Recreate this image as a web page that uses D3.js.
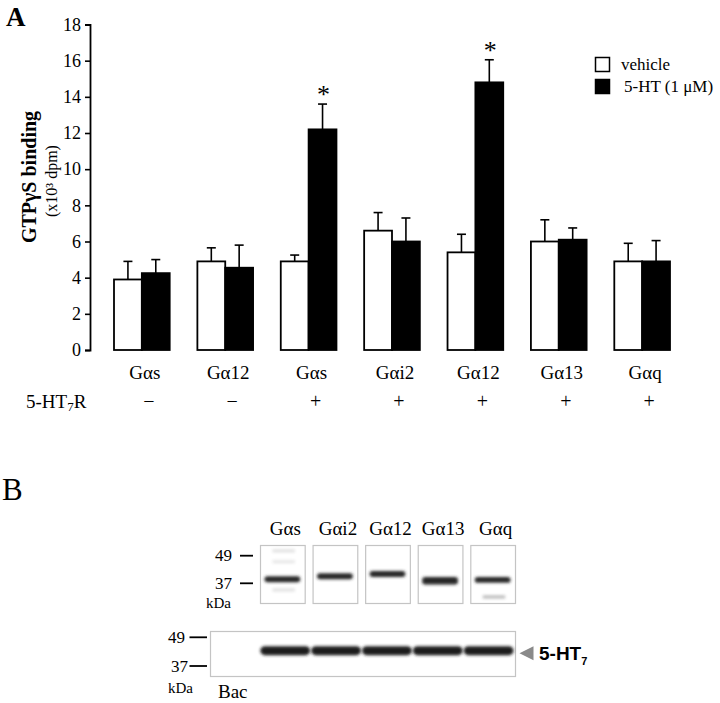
<!DOCTYPE html>
<html>
<head>
<meta charset="utf-8">
<script src="https://cdn.jsdelivr.net/npm/d3@7"></script>
<style>
  html, body { margin: 0; padding: 0; background: #fff; }
  svg { display: block; }
</style>
</head>
<body>
<svg id="chart" width="720" height="703"></svg>
<script>
// ---------- Panel A data ----------
const groups = ["Gαs", "Gα12", "Gαs", "Gαi2", "Gα12", "Gα13", "Gαq"];
const receptor = ["−", "−", "+", "+", "+", "+", "+"];
const vehicle = [3.9, 4.9, 4.9, 6.6, 5.4, 6.0, 4.9];
const vehicleErr = [1.0, 0.75, 0.35, 1.0, 1.0, 1.2, 1.0];
const serotonin = [4.25, 4.55, 12.2, 6.0, 14.8, 6.1, 4.9];
const serotoninErr = [0.75, 1.25, 1.4, 1.3, 1.25, 0.65, 1.15];
const significant = [false, false, true, false, true, false, false];
const yTicks = [0, 2, 4, 6, 8, 10, 12, 14, 16, 18];
const seriesNames = ["vehicle", "5-HT (1 μM)"];

// ---------- Panel B data ----------
const blotLanes = ["Gαs", "Gαi2", "Gα12", "Gα13", "Gαq"];
const blotBandKDa = [38.6, 39.8, 40.7, 38.0, 38.3];
const blotBandWeight = [1.0, 1.0, 1.0, 1.25, 0.95];
const faintBands = [
  { lane: "Gαs", kDa: 51.5, opacity: 0.15 },
  { lane: "Gαs", kDa: 46.1, opacity: 0.12 },
  { lane: "Gαs", kDa: 34.6, opacity: 0.15 },
  { lane: "Gαq", kDa: 32.2, opacity: 0.35 }
];
const markersKDa = [49, 37];
const bacLanes = ["Bac", "Gαs", "Gαi2", "Gα12", "Gα13", "Gαq"];
const bacBandKDa = [null, 43, 43, 43, 43, 43];

const SERIF = "'Liberation Serif', 'Times New Roman', serif";
const SANS = "'Liberation Sans', Arial, sans-serif";

const svg = d3.select("#chart").style("font-family", SERIF);
svg.append("rect").attr("width", 720).attr("height", 703).attr("fill", "#fff");

function txt(sel) { return sel.style("font-family", SERIF).attr("fill", "#000"); }

// ---------- Panel A ----------
const y = d3.scaleLinear().domain([0, 18]).range([350, 24.5]);
const x = d3.scaleBand().domain(d3.range(groups.length)).range([114, 670]).paddingInner(0.332);
const xs = d3.scaleBand().domain([0, 1]).range([0, x.bandwidth()]);

txt(svg.append("text")).text("A").attr("x", 6).attr("y", 26)
  .attr("font-size", 27).attr("font-weight", "bold");

const yAxis = d3.axisLeft(y).tickValues(yTicks).tickSize(5).tickPadding(4);
const gy = svg.append("g").attr("transform", "translate(90,0)").call(yAxis);
gy.attr("font-family", null);
gy.select(".domain").attr("stroke", "#000").attr("stroke-width", 1.8);
gy.selectAll(".tick line").attr("stroke", "#000").attr("stroke-width", 1.6);
gy.selectAll(".tick text").style("font-family", SERIF).attr("font-size", 18).attr("fill", "#000");

txt(svg.append("text")).attr("transform", "translate(29,177) rotate(-90)")
  .attr("text-anchor", "middle").attr("dominant-baseline", "central")
  .attr("font-size", 20).attr("font-weight", "bold").text("GTPγS binding");
txt(svg.append("text")).attr("transform", "translate(51,181) rotate(-90)")
  .attr("text-anchor", "middle").attr("dominant-baseline", "central")
  .attr("font-size", 16).text("(x10³ dpm)");

const series = [
  { vals: vehicle, errs: vehicleErr, fill: "#fff" },
  { vals: serotonin, errs: serotoninErr, fill: "#000" }
];

series.forEach((s, si) => {
  const g = svg.append("g");
  const cx = i => x(i) + xs(si) + xs.bandwidth() / 2;
  g.selectAll("line.stem").data(s.vals).join("line")
    .attr("x1", (d, i) => cx(i)).attr("x2", (d, i) => cx(i))
    .attr("y1", d => y(d)).attr("y2", (d, i) => y(d + s.errs[i]))
    .attr("stroke", "#000").attr("stroke-width", 1.6);
  g.selectAll("line.cap").data(s.vals).join("line")
    .attr("x1", (d, i) => cx(i) - 4.5).attr("x2", (d, i) => cx(i) + 4.5)
    .attr("y1", (d, i) => y(d + s.errs[i])).attr("y2", (d, i) => y(d + s.errs[i]))
    .attr("stroke", "#000").attr("stroke-width", 1.6);
  g.selectAll("rect").data(s.vals).join("rect")
    .attr("x", (d, i) => x(i) + xs(si))
    .attr("y", d => y(d))
    .attr("width", xs.bandwidth())
    .attr("height", d => y(0) - y(d))
    .attr("fill", s.fill).attr("stroke", "#000").attr("stroke-width", 1.8);
});

// significance stars
const starData = serotonin.map((v, i) => ({ i, top: v + serotoninErr[i], sig: significant[i] })).filter(d => d.sig);
txt(svg.selectAll("text.star").data(starData).join("text"))
  .attr("x", d => x(d.i) + xs(1) + xs.bandwidth() / 2 + 1)
  .attr("y", d => y(d.top) - 1)
  .attr("text-anchor", "middle").attr("font-size", 26).text("*");

// group labels
txt(svg.selectAll("text.glab").data(groups).join("text"))
  .attr("x", (d, i) => x(i) + x.bandwidth() / 2 + 3)
  .attr("y", 379).attr("text-anchor", "middle").attr("font-size", 19).text(d => d);

// receptor row
const rl = txt(svg.append("text")).attr("x", 26).attr("y", 408).attr("font-size", 19);
rl.append("tspan").text("5-HT");
rl.append("tspan").attr("font-size", 13).attr("dy", 3).text("7");
rl.append("tspan").attr("dy", -3).text("R");
txt(svg.selectAll("text.rec").data(receptor).join("text"))
  .attr("x", (d, i) => x(i) + x.bandwidth() / 2 + 7)
  .attr("y", 408).attr("text-anchor", "middle").attr("font-size", 20).text(d => d);

// legend
const leg = svg.append("g");
seriesNames.forEach((n, i) => {
  leg.append("rect").attr("x", 595.5).attr("y", 57.5 + i * 22).attr("width", 14).attr("height", 14)
    .attr("fill", i === 0 ? "#fff" : "#000").attr("stroke", "#000").attr("stroke-width", 1.5);
  txt(leg.append("text")).attr("x", i === 0 ? 621 : 624).attr("y", 70 + i * 22)
    .attr("font-size", 17).text(n);
});

// ---------- Panel B ----------
txt(svg.append("text")).text("B").attr("x", 2).attr("y", 500).attr("font-size", 31);

const defs = svg.append("defs");
defs.append("filter").attr("id", "blur").attr("x", "-20%").attr("y", "-150%").attr("width", "140%").attr("height", "400%")
  .append("feGaussianBlur").attr("stdDeviation", "1.6 1.4");

const lx = d3.scaleBand().domain(blotLanes).range([260, 515]).paddingInner(0.15);
const ky = d3.scaleLog().domain([37, 49]).range([583.3, 555.7]);
const boxTop = 545.5, boxBot = 603.5;

svg.selectAll("rect.lanebox").data(blotLanes).join("rect")
  .attr("x", d => lx(d) + 0.5).attr("y", boxTop).attr("width", lx.bandwidth()).attr("height", boxBot - boxTop)
  .attr("fill", "#fff").attr("stroke", "#c4c4c4").attr("stroke-width", 1.2);

svg.selectAll("rect.faint").data(faintBands).join("rect")
  .attr("x", d => lx(d.lane) + lx.bandwidth() * 0.28).attr("width", lx.bandwidth() * 0.5)
  .attr("y", d => ky(d.kDa) - 1.5).attr("height", 3)
  .attr("fill", "#333").attr("opacity", d => d.opacity).attr("filter", "url(#blur)");

svg.selectAll("rect.band").data(blotLanes).join("rect")
  .attr("x", d => lx(d) + lx.bandwidth() * 0.1).attr("width", lx.bandwidth() * 0.8)
  .attr("y", (d, i) => ky(blotBandKDa[i]) - 3 * blotBandWeight[i])
  .attr("height", (d, i) => 6 * blotBandWeight[i]).attr("rx", 3)
  .attr("fill", "#262626").attr("filter", "url(#blur)");

txt(svg.selectAll("text.lanelab").data(blotLanes).join("text"))
  .attr("x", d => lx(d) + lx.bandwidth() / 2 + 3).attr("y", 535)
  .attr("text-anchor", "middle").attr("font-size", 19).text(d => d);

markersKDa.forEach(k => {
  svg.append("line").attr("x1", 240).attr("x2", 253).attr("y1", ky(k)).attr("y2", ky(k))
    .attr("stroke", "#000").attr("stroke-width", 1.8);
  txt(svg.append("text")).attr("x", 232).attr("y", ky(k)).attr("dominant-baseline", "central")
    .attr("text-anchor", "end").attr("font-size", 17).text(k);
});
txt(svg.append("text")).attr("x", 206).attr("y", 608).attr("font-size", 15).text("kDa");

const bx = d3.scaleBand().domain(bacLanes).range([210.5, 515.5]);
const by = d3.scaleLog().domain([37, 49]).range([666, 637.3]);
svg.append("rect").attr("x", 210.5).attr("y", 631.5).attr("width", 305).attr("height", 45)
  .attr("fill", "#fff").attr("stroke", "#c4c4c4").attr("stroke-width", 1.2);
const bacData = bacLanes.map((l, i) => ({ l, k: bacBandKDa[i] })).filter(d => d.k !== null);
svg.selectAll("rect.bacband").data(bacData).join("rect")
  .attr("x", d => bx(d.l) - 1).attr("width", bx.bandwidth() - 1)
  .attr("y", d => by(d.k) - 4.5).attr("height", 9).attr("rx", 4.5)
  .attr("fill", "#1e1e1e").attr("filter", "url(#blur)");

markersKDa.forEach(k => {
  svg.append("line").attr("x1", 189.5).attr("x2", 207).attr("y1", by(k)).attr("y2", by(k))
    .attr("stroke", "#000").attr("stroke-width", 1.8);
  txt(svg.append("text")).attr("x", k === 49 ? 185 : 188).attr("y", by(k)).attr("dominant-baseline", "central")
    .attr("text-anchor", "end").attr("font-size", 17).text(k);
});
txt(svg.append("text")).attr("x", 168).attr("y", 693).attr("font-size", 15).text("kDa");
txt(svg.append("text")).attr("x", 218).attr("y", 698).attr("font-size", 19).text("Bac");

const ay = by(43) + 2.5;
svg.append("path").attr("d", `M533.5,${ay - 7} L533.5,${ay + 7} L519.5,${ay} Z`).attr("fill", "#8a8a8a");
const lab = svg.append("text").attr("x", 539).attr("y", 660)
  .style("font-family", SANS).attr("font-weight", "bold").attr("font-size", 19).attr("fill", "#000");
lab.append("tspan").text("5-HT");
lab.append("tspan").attr("font-size", 11).attr("dy", 5).text("7");
</script>
</body>
</html>
